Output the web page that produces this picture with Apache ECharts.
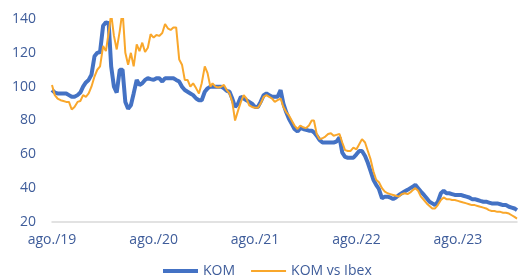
<!DOCTYPE html>
<html>
<head>
<meta charset="utf-8">
<script src="https://cdn.jsdelivr.net/npm/echarts@6/dist/echarts.min.js"></script>
<style>
html,body{margin:0;padding:0;background:#fff;}
#c{width:518px;height:277px;}
</style>
</head>
<body>
<div id="c"></div>
<script>
// Months covered (three samples per month: 1st, 11th, 21st)
const months = [
  '2019-08','2019-09','2019-10','2019-11','2019-12',
  '2020-01','2020-02','2020-03','2020-04','2020-05','2020-06','2020-07','2020-08','2020-09','2020-10','2020-11','2020-12',
  '2021-01','2021-02','2021-03','2021-04','2021-05','2021-06','2021-07','2021-08','2021-09','2021-10','2021-11','2021-12',
  '2022-01','2022-02','2022-03','2022-04','2022-05','2022-06','2022-07','2022-08','2022-09','2022-10','2022-11','2022-12',
  '2023-01','2023-02','2023-03','2023-04','2023-05','2023-06','2023-07','2023-08','2023-09','2023-10','2023-11','2023-12',
  '2024-01','2024-02'
];
const days = ['01','11','21'];
const lastDate = '2024-03-01';
const dates = months.flatMap(m => days.map(d => m + '-' + d)).concat([lastDate]);

const kom = [
  98,96.5,96, 96,96,96, 95,94,94, 95,96.5,100, 102.5,104,107,
  118,120,120.5, 136,138,137.5, 112,100,96.5, 110,110,91, 87,89,96, 104,101,102, 104,105,104.5,
  104,105,105, 103,105,105, 105,105,104, 103,100,98, 97,96,95,
  93,92,92, 97,99,100, 100,100,100, 100,99,97.5, 97,93,88, 90,94,93, 92,91,90,
  88,88,91, 95,96,95, 94,94,94, 98,90,85, 81,78,75,
  73.5,75.5,75, 74.5,74,74, 73,71,68.5, 67,67,67, 67,67,67.5, 70,61,58.5, 58,58,58,
  60,62,62, 59,55,50, 45,42,39.5, 34,35,35, 34.5,33.5,34.5,
  36,37,38, 39,40,41, 42,40,38, 36,34,32, 31,30,32, 37,38.5,37, 37,36.5,36,
  36,36,35.5, 35,34.5,33.5, 33.5,33,32.5, 32,32,31.5, 31,31,31,
  30.5,30,30, 29,28.5,28, 27
];
const komVsIbex = [
  101,95,93, 92,91.5,91, 91,86.5,88, 91,91.5,95, 94,96,100,
  106,110,112, 124,121,132, 143,130,122, 133,145,120, 113,120,112, 125,121,126, 120.5,123,131,
  129,130.5,130, 131.7,137,134.5, 133.5,135,135, 116,113,104, 104,100,102,
  99,96,102, 112,108,100, 102,100,99.5, 100,101,98, 96,91,80, 86,91,95, 93,89,88,
  87.5,87.5,90, 94,95,94, 93,91,92, 93,88,85, 83,80,77,
  75,77,76, 75.5,77,80, 80,72,69, 69.5,70.5,72, 72.5,71,71.5, 72,67,62.5, 62,62,64,
  63,66,69, 67,62,57, 50,45,43.5, 40,38,37, 36.5,36,35.5,
  35,36.5,37, 36.5,37.5,39, 40,38.5,35, 33,31,29.5, 28,28,30, 33,34.5,33.5, 33.5,33,33,
  32.5,32,31.5, 31,30.5,30, 30,29.5,29, 28.5,28,27, 26.5,26.5,26,
  26,25.5,25.5, 25,24,23, 22
];

const yTicks = [20, 40, 60, 80, 100, 120, 140];
const xTickDates = ['2019-08-01','2020-08-01','2021-08-01','2022-08-01','2023-08-01'];
const xTickLabels = ['ago./19','ago./20','ago./21','ago./22','ago./23'];

const FONT = 'Open Sans';
const TXT = '#3E5C9A';
const BLUE = '#4472C4';
const ORANGE = '#F9A72B';
const ts = s => Date.UTC(+s.slice(0,4), +s.slice(5,7) - 1, +s.slice(8,10));
const xTickTs = xTickDates.map(ts);

const chart = echarts.init(document.getElementById('c'), null, {renderer: 'canvas'});
chart.setOption({
  animation: false,
  backgroundColor: '#ffffff',
  textStyle: {fontFamily: FONT},
  grid: {left: 52, right: 1, top: 19, bottom: 55, containLabel: false},
  legend: {
    left: 158, top: 259,
    itemWidth: 35, itemHeight: 4, itemGap: 16,
    textStyle: {fontFamily: FONT, fontSize: 14, color: TXT},
    data: [
      {name: 'KOM', icon: 'rect', itemStyle: {color: BLUE}},
      {name: 'KOM vs Ibex', icon: 'path://M0,0H35V2H0Z', itemStyle: {color: ORANGE}}
    ]
  },
  xAxis: {
    type: 'value',
    min: xTickTs[0],
    max: ts(lastDate),
    scale: true,
    splitLine: {show: false},
    axisTick: {show: false},
    axisLine: {show: true, onZero: false, lineStyle: {color: '#D9D9D9', width: 1.5}},
    axisLabel: {
      customValues: xTickTs,
      formatter: v => {
        const i = xTickTs.indexOf(v);
        return i >= 0 ? xTickLabels[i] : '';
      },
      showMinLabel: true,
      hideOverlap: false,
      margin: 11,
      fontFamily: FONT, fontSize: 14, color: TXT
    }
  },
  yAxis: {
    type: 'value',
    min: yTicks[0], max: yTicks[yTicks.length - 1], interval: 20,
    splitLine: {show: false},
    axisLine: {show: false},
    axisTick: {show: false},
    axisLabel: {margin: 16, fontFamily: FONT, fontSize: 14, color: TXT}
  },
  series: [
    {
      name: 'KOM', type: 'line', symbol: 'none',
      data: dates.map((d, i) => [ts(d), kom[i]]),
      lineStyle: {color: BLUE, width: 4},
      itemStyle: {color: BLUE}
    },
    {
      name: 'KOM vs Ibex', type: 'line', symbol: 'none',
      data: dates.map((d, i) => [ts(d), komVsIbex[i]]),
      lineStyle: {color: ORANGE, width: 2},
      itemStyle: {color: ORANGE}
    }
  ]
});
</script>
</body>
</html>
